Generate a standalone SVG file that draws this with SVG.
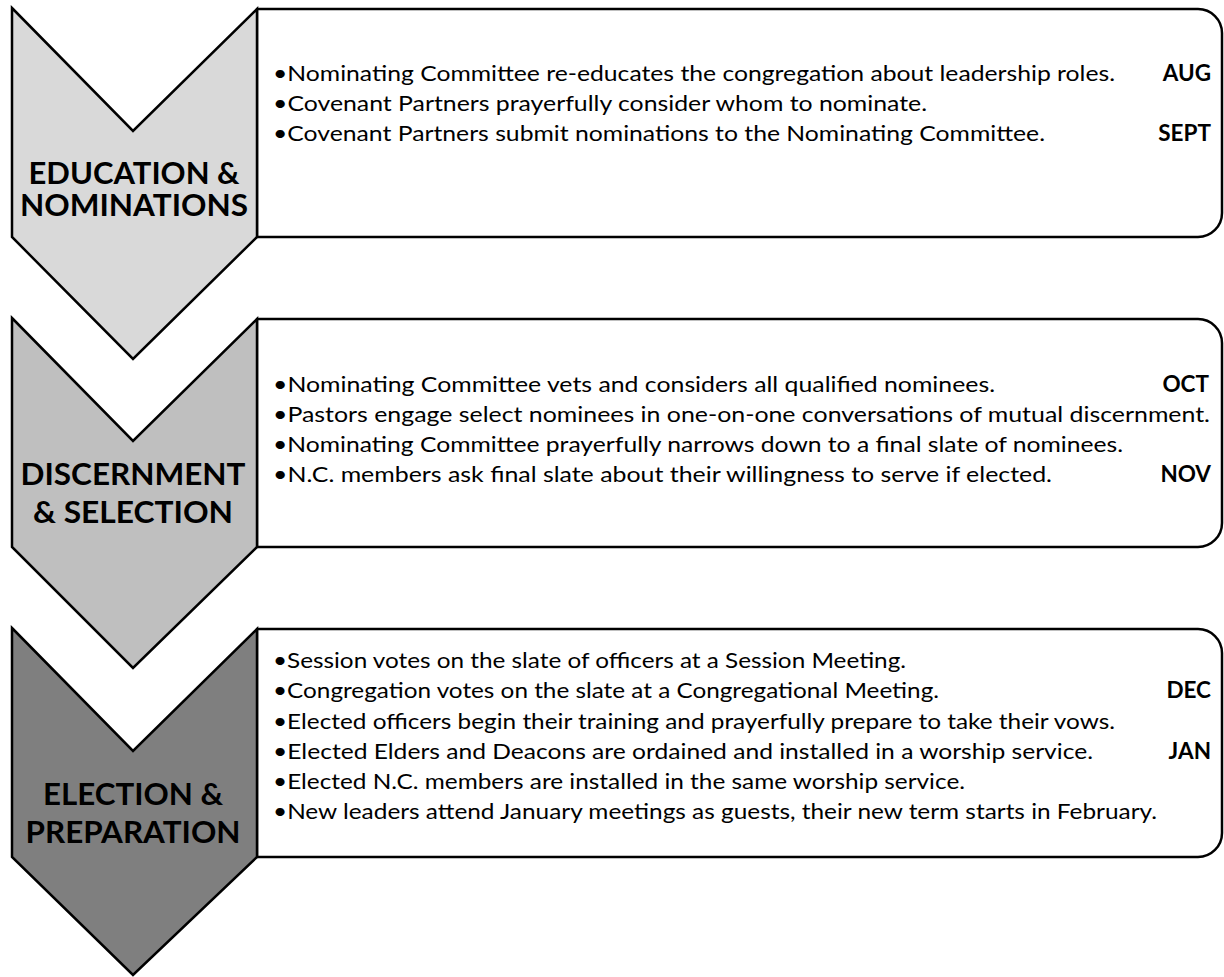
<svg xmlns="http://www.w3.org/2000/svg" width="1224" height="977" viewBox="0 0 1224 977">
<style>
.box{fill:#ffffff;stroke:#000000;stroke-width:2.5;stroke-linejoin:round}
.chev{stroke:#000000;stroke-width:2.5;stroke-linejoin:miter}
.c1{fill:#d9d9d9}.c2{fill:#bfbfbf}.c3{fill:#7f7f7f}
.lbl{font-family:Lato,"Liberation Sans",sans-serif;font-weight:bold;font-size:31px;fill:#000;text-anchor:middle}
.lbs{font-size:30px}
.t{font-family:Lato,"Liberation Sans",sans-serif;font-size:21.5px;fill:#000}
.m{font-family:Lato,"Liberation Sans",sans-serif;font-weight:bold;font-size:22.5px;fill:#000;text-anchor:end}
</style>
<rect width="1224" height="977" fill="#ffffff"/>
<g id="stage1">
<path class="box" d="M257 9 H1198 A24 24 0 0 1 1222 33 V213 A24 24 0 0 1 1198 237 H257 Z"/>
<path class="chev c1" d="M12 8 L133 131 L257 9 V237 L133 359 L12 237 Z"/>
<text class="lbl lbs" x="134" y="184" textLength="211" lengthAdjust="spacingAndGlyphs">EDUCATION &amp;</text>
<text class="lbl lbs" x="134" y="216" textLength="228" lengthAdjust="spacingAndGlyphs">NOMINATIONS</text>
<text class="t" x="273" y="81" textLength="842" lengthAdjust="spacingAndGlyphs">•Nominating Committee re-educates the congregation about leadership roles.</text>
<text class="t" x="273" y="111" textLength="654" lengthAdjust="spacingAndGlyphs">•Covenant Partners prayerfully consider whom to nominate.</text>
<text class="t" x="273" y="141" textLength="772" lengthAdjust="spacingAndGlyphs">•Covenant Partners submit nominations to the Nominating Committee.</text>
<text class="m" x="1211" y="81">AUG</text>
<text class="m" x="1211" y="141">SEPT</text>
</g>
<g id="stage2">
<path class="box" d="M257 319 H1198 A24 24 0 0 1 1222 343 V523 A24 24 0 0 1 1198 547 H257 Z"/>
<path class="chev c2" d="M12 318 L133 441 L257 319 V547 L133 668 L12 547 Z"/>
<text class="lbl" x="133" y="485" textLength="225" lengthAdjust="spacingAndGlyphs">DISCERNMENT</text>
<text class="lbl" x="133" y="523" textLength="200" lengthAdjust="spacingAndGlyphs">&amp; SELECTION</text>
<text class="t" x="273" y="392" textLength="722" lengthAdjust="spacingAndGlyphs">•Nominating Committee vets and considers all qualified nominees.</text>
<text class="t" x="273" y="422" textLength="937" lengthAdjust="spacingAndGlyphs">•Pastors engage select nominees in one-on-one conversations of mutual discernment.</text>
<text class="t" x="273" y="452" textLength="850" lengthAdjust="spacingAndGlyphs">•Nominating Committee prayerfully narrows down to a final slate of nominees.</text>
<text class="t" x="273" y="482" textLength="779" lengthAdjust="spacingAndGlyphs">•N.C. members ask final slate about their willingness to serve if elected.</text>
<text class="m" x="1209" y="392">OCT</text>
<text class="m" x="1211" y="482">NOV</text>
</g>
<g id="stage3">
<path class="box" d="M257 629 H1198 A24 24 0 0 1 1222 653 V833 A24 24 0 0 1 1198 857 H257 Z"/>
<path class="chev c3" d="M12 628 L133 751 L257 629 V857 L133 975 L12 857 Z"/>
<text class="lbl" x="133" y="805" textLength="180" lengthAdjust="spacingAndGlyphs">ELECTION &amp;</text>
<text class="lbl" x="133" y="843" textLength="215" lengthAdjust="spacingAndGlyphs">PREPARATION</text>
<text class="t" x="273" y="668" textLength="633" lengthAdjust="spacingAndGlyphs">•Session votes on the slate of officers at a Session Meeting.</text>
<text class="t" x="273" y="698" textLength="666" lengthAdjust="spacingAndGlyphs">•Congregation votes on the slate at a Congregational Meeting.</text>
<text class="t" x="273" y="729" textLength="842" lengthAdjust="spacingAndGlyphs">•Elected officers begin their training and prayerfully prepare to take their vows.</text>
<text class="t" x="273" y="759" textLength="820" lengthAdjust="spacingAndGlyphs">•Elected Elders and Deacons are ordained and installed in a worship service.</text>
<text class="t" x="273" y="789" textLength="692" lengthAdjust="spacingAndGlyphs">•Elected N.C. members are installed in the same worship service.</text>
<text class="t" x="273" y="819" textLength="884" lengthAdjust="spacingAndGlyphs">•New leaders attend January meetings as guests, their new term starts in February.</text>
<text class="m" x="1211" y="698">DEC</text>
<text class="m" x="1211" y="759">JAN</text>
</g>
<g id="connectors"></g>
</svg>
